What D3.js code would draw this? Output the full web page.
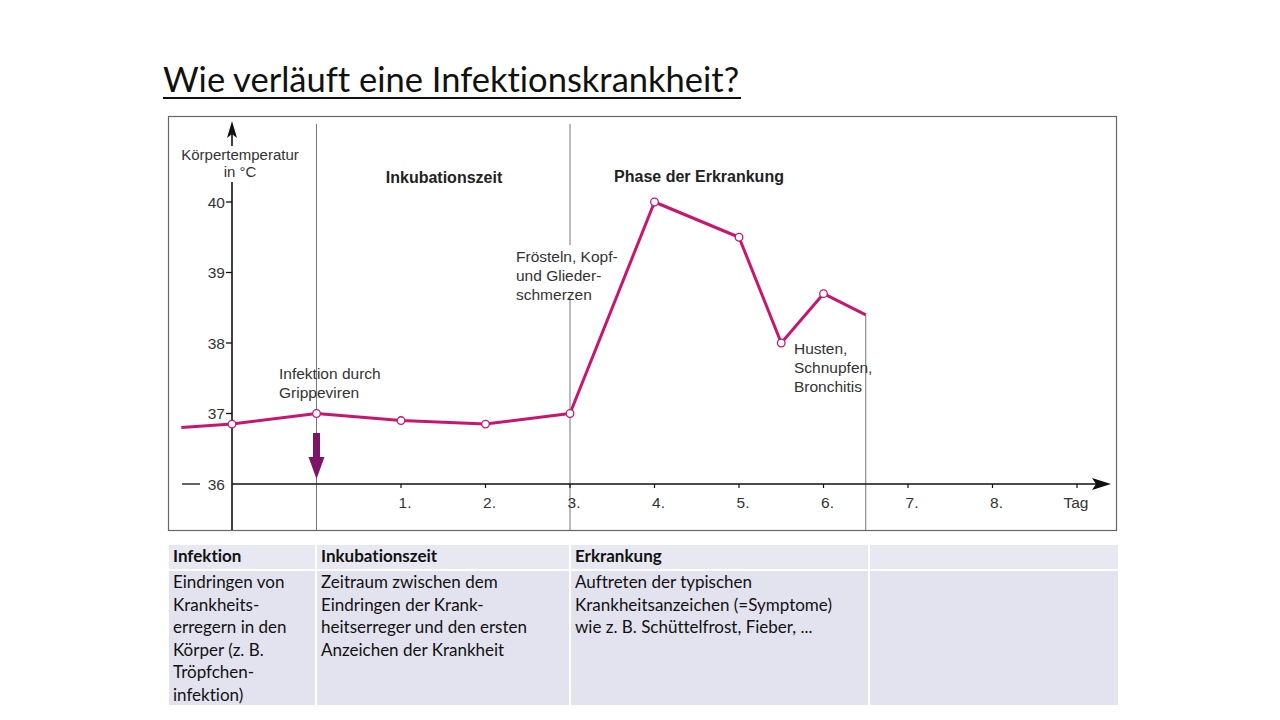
<!DOCTYPE html>
<html>
<head>
<meta charset="utf-8">
<script src="https://cdn.jsdelivr.net/npm/d3@7"></script>
<style>
  body { margin: 0; background: #fff; }
  svg text { font-family: "Liberation Sans", Arial, sans-serif; }
  svg text.tbl {
    font-family: Lato, "Open Sans", sans-serif;
    font-variant-ligatures: none;
    font-feature-settings: "liga" 0, "clig" 0, "dlig" 0, "calt" 0;
    text-rendering: optimizeSpeed;
  }
</style>
</head>
<body>
<script>
// chart data
var days = [-1.6, -1, 0, 1, 2, 3, 4, 5, 5.5, 6, 6.5];
var temps = [36.8, 36.85, 37.0, 36.9, 36.85, 37.0, 40.0, 39.5, 38.0, 38.7, 38.4];
var marked = [false, true, true, true, true, true, true, true, true, true, false];
var yTicks = [37, 38, 39, 40];
var xTickDays = [1, 2, 3, 4, 5, 6, 7, 8, 9];
var xTickLabels = ["1.", "2.", "3.", "4.", "5.", "6.", "7.", "8.", "Tag"];
var tableHeads = ["Infektion", "Inkubationszeit", "Erkrankung", ""];
var tableBodies = [
  ["Eindringen von", "Krankheits-", "erregern in den", "Körper (z. B.", "Tröpfchen-", "infektion)"],
  ["Zeitraum zwischen dem", "Eindringen der Krank-", "heitserreger und den ersten", "Anzeichen der Krankheit"],
  ["Auftreten der typischen", "Krankheitsanzeichen (=Symptome)", "wie z. B. Schüttelfrost, Fieber, ..."],
  []
];

var width = 1280, height = 720;
var svg = d3.select("body").append("svg")
    .attr("width", width)
    .attr("height", height);

//scales: day -1 sits on the y axis
var x = d3.scaleLinear().domain([-1, 9]).range([232, 1077]);
var y = d3.scaleLinear().domain([36, 40]).range([484, 202]);

//title
svg.append("text")
    .attr("x", 163).attr("y", 92)
    .attr("class", "tbl")
    .style("font-size", "34.5px")
    .attr("fill", "#111")
    .text("Wie verläuft eine Infektionskrankheit?");
svg.append("line")
    .attr("x1", 163).attr("x2", 741)
    .attr("y1", 98).attr("y2", 98)
    .attr("stroke", "#111").attr("stroke-width", 2);

//chart frame
svg.append("rect")
    .attr("x", 168.5).attr("y", 116.5)
    .attr("width", 948).attr("height", 414)
    .attr("fill", "#fff").attr("stroke", "#666").attr("stroke-width", 1.2);

var g = svg.append("g");

//phase separators
g.append("line").attr("x1", x(0)).attr("x2", x(0)).attr("y1", 124).attr("y2", 530)
    .attr("stroke", "#777").attr("stroke-width", 1);
g.append("line").attr("x1", x(3)).attr("x2", x(3)).attr("y1", 124).attr("y2", 245)
    .attr("stroke", "#777").attr("stroke-width", 1);
g.append("line").attr("x1", x(3)).attr("x2", x(3)).attr("y1", 298).attr("y2", 530)
    .attr("stroke", "#777").attr("stroke-width", 1);
g.append("line").attr("x1", x(6.5)).attr("x2", x(6.5)).attr("y1", y(38.4)).attr("y2", 530)
    .attr("stroke", "#777").attr("stroke-width", 1);

//y axis
g.append("line").attr("x1", 232).attr("x2", 232).attr("y1", 146).attr("y2", 124)
    .attr("stroke", "#111").attr("stroke-width", 1.6);
g.append("path").attr("d", "M232,121 L227,138 L232,134 L237,138 Z").attr("fill", "#111");
g.append("line").attr("x1", 232).attr("x2", 232).attr("y1", 182).attr("y2", 530)
    .attr("stroke", "#111").attr("stroke-width", 1.6);

var yt = g.selectAll(".ytick").data(yTicks).enter().append("g").attr("class", "ytick");
yt.append("line")
    .attr("x1", 226).attr("x2", 232)
    .attr("y1", function(d) { return y(d); }).attr("y2", function(d) { return y(d); })
    .attr("stroke", "#111").attr("stroke-width", 1.3);
yt.append("text")
    .attr("x", 225).attr("y", function(d) { return y(d) + 5.5; })
    .attr("text-anchor", "end")
    .style("font-size", "15.5px").attr("fill", "#333")
    .text(function(d) { return d; });

//36 with its long dash
g.append("line").attr("x1", 182).attr("x2", 200).attr("y1", y(36)).attr("y2", y(36))
    .attr("stroke", "#111").attr("stroke-width", 1.3);
g.append("text").attr("x", 225).attr("y", y(36) + 5.5).attr("text-anchor", "end")
    .style("font-size", "15.5px").attr("fill", "#333").text("36");

//y axis title
g.append("text").attr("x", 240).attr("y", 160).attr("text-anchor", "middle")
    .style("font-size", "15px").attr("fill", "#333").text("Körpertemperatur");
g.append("text").attr("x", 240).attr("y", 177).attr("text-anchor", "middle")
    .style("font-size", "15px").attr("fill", "#333").text("in °C");

//x axis
g.append("line").attr("x1", 232).attr("x2", 1100).attr("y1", y(36)).attr("y2", y(36))
    .attr("stroke", "#111").attr("stroke-width", 1.6);
g.append("path").attr("d", "M1111,484 L1092,478 L1096,484 L1092,490 Z").attr("fill", "#111");

var xt = g.selectAll(".xtick").data(xTickDays).enter().append("g").attr("class", "xtick");
xt.append("line")
    .attr("x1", function(d) { return x(d); }).attr("x2", function(d) { return x(d); })
    .attr("y1", y(36)).attr("y2", y(36) + 4)
    .attr("stroke", "#111").attr("stroke-width", 1.2);
xt.append("text")
    .attr("x", function(d, i) { return x(d) + (i === 8 ? -1 : 4); })
    .attr("y", 508)
    .attr("text-anchor", "middle")
    .style("font-size", "15.5px").attr("fill", "#333")
    .text(function(d, i) { return xTickLabels[i]; });

//phase headings
g.append("text").attr("x", 444).attr("y", 183).attr("text-anchor", "middle")
    .style("font-size", "16px").style("font-weight", "bold").attr("fill", "#222")
    .text("Inkubationszeit");
g.append("text").attr("x", 699).attr("y", 182).attr("text-anchor", "middle")
    .style("font-size", "16px").style("font-weight", "bold").attr("fill", "#222")
    .text("Phase der Erkrankung");

//annotations
function multiline(lines, x0, y0, dy) {
    g.append("text")
        .attr("x", x0).attr("y", y0)
        .style("font-size", "15.5px").attr("fill", "#333")
        .selectAll("tspan").data(lines).enter().append("tspan")
        .attr("x", x0)
        .attr("dy", function(d, i) { return i === 0 ? 0 : dy; })
        .text(function(d) { return d; });
}
multiline(["Frösteln, Kopf-", "und Glieder-", "schmerzen"], 516, 262, 19);
multiline(["Infektion durch", "Grippeviren"], 279, 379, 19);
multiline(["Husten,", "Schnupfen,", "Bronchitis"], 794, 354, 19);

//temperature curve
var pts = days.map(function(d, i) { return { day: d, temp: temps[i], mark: marked[i] }; });
var line = d3.line()
    .x(function(d) { return x(d.day); })
    .y(function(d) { return y(d.temp); });
g.append("path").datum(pts)
    .attr("d", line)
    .attr("fill", "none")
    .attr("stroke", "#c8166f")
    .attr("stroke-width", 3)
    .attr("stroke-linejoin", "round");
g.selectAll(".pt").data(pts.filter(function(d) { return d.mark; })).enter()
    .append("circle").attr("class", "pt")
    .attr("cx", function(d) { return x(d.day); })
    .attr("cy", function(d) { return y(d.temp); })
    .attr("r", 3.8)
    .attr("fill", "#fff").attr("stroke", "#c8166f").attr("stroke-width", 1.3);

//infection arrow
g.append("rect").attr("x", x(0) - 3.5).attr("y", 433).attr("width", 7).attr("height", 26)
    .attr("fill", "#7b1566");
g.append("path").attr("d", "M" + (x(0) - 8) + ",457 L" + (x(0) + 8) + ",457 L" + x(0) + ",479 Z")
    .attr("fill", "#7b1566");

//table below the chart
var colX = [168, 316, 570, 869, 1119];
var tbl = svg.append("g");
tableHeads.forEach(function(h, i) {
    var w = colX[i + 1] - colX[i];
    tbl.append("rect").attr("x", colX[i] + 1).attr("y", 545).attr("width", w - 2).attr("height", 24)
        .attr("fill", "#e8e8f2");
    tbl.append("rect").attr("x", colX[i] + 1).attr("y", 571).attr("width", w - 2).attr("height", 134)
        .attr("fill", "#e3e3ef");
    tbl.append("text").attr("x", colX[i] + 5).attr("y", 562)
        .attr("class", "tbl")
        .style("font-size", "17px").style("font-weight", "bold").attr("fill", "#111")
        .text(h);
    tbl.append("text").attr("class", "tbl")
        .style("font-size", "17px").attr("fill", "#111")
        .selectAll("tspan").data(tableBodies[i]).enter().append("tspan")
        .attr("x", colX[i] + 5)
        .attr("y", function(d, j) { return 588 + j * 22.5; })
        .text(function(d) { return d; });
});
</script>
</body>
</html>
